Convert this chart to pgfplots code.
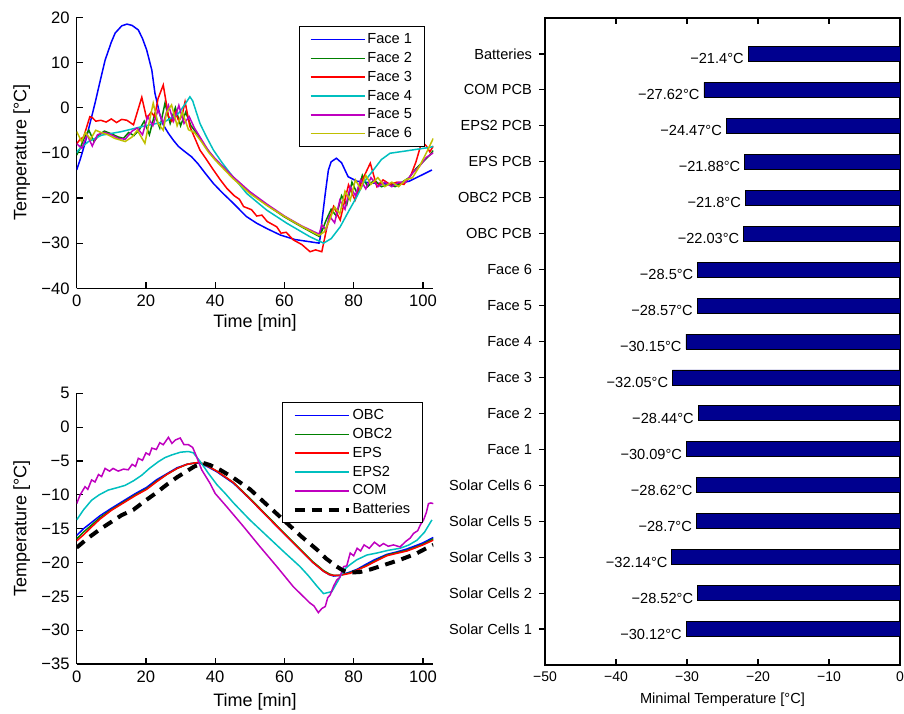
\documentclass[border=0pt]{standalone}
\usepackage{fontspec}
\setmainfont{Liberation Sans}
\usepackage{pgfplots}
\pgfplotsset{compat=1.18}
\definecolor{mblue}{rgb}{0,0,1}
\definecolor{mgreen}{rgb}{0,0.5,0}
\definecolor{mred}{rgb}{1,0,0}
\definecolor{mcyan}{rgb}{0,0.75,0.75}
\definecolor{mmag}{rgb}{0.75,0,0.75}
\definecolor{myel}{rgb}{0.75,0.75,0}
\definecolor{navybar}{rgb}{0,0,0.56}
\pgfplotsset{
  lineaxis/.style={
    scale only axis, width=178.3pt,
    axis lines*=left,
    axis line style={line width=0.6pt},
    every tick/.style={black, line width=0.6pt},
    major tick length=3pt,
    tick align=inside,
    xmin=0, xmax=103,
    xtick={0,20,40,60,80,100},
    xticklabels={0,20,40,60,80,100},
    tick label style={font=\fontsize{8.3}{10}\selectfont},
    label style={font=\fontsize{9}{11}\selectfont},
    xlabel={Time [min]},
    ylabel={Temperature [°C]},
    ylabel style={at={(axis description cs:-0.154,0.5)}, anchor=center, rotate=0},
    legend cell align=left,
    legend image code/.code={\draw[##1] (0pt,0pt) -- (27pt,0pt);},
    legend style={font=\fontsize{7.3}{9}\selectfont, draw=black,
      nodes={inner sep=1pt, text height=5.5pt, text depth=1.5pt},
      row sep=0.4pt, inner xsep=5pt, inner ysep=2pt},
    every axis plot/.append style={line width=0.75pt},
  }
}
\begin{document}
\begin{tikzpicture}
\path[use as bounding box] (0pt,0pt) rectangle (452pt,356.5pt);
% ---------------- top-left --------------
\begin{axis}[lineaxis,
  at={(38.35pt,212.35pt)}, anchor=south west, height=135.5pt,
  ymin=-40, ymax=20,
  ytick={-40,-30,-20,-10,0,10,20},
  yticklabels={−40,−30,−20,−10,0,10,20},
  xlabel style={at={(axis description cs:0.5,-0.129)}, anchor=center},
  legend style={at={(axis description cs:0.975,0.967)}, anchor=north east},
]
\addplot[mblue] coordinates {
(0,-13.8) (1,-11.5) (2.4,-7.9) (4,-3) (5.3,1) (6.5,5) (8.2,10.5) (10,14.5) (11.1,16.5) (13,18.1) (14.5,18.5) (16,18.2) (17.8,17.2) (19,15.3) (20.2,12.8) (21.7,8.3) (22.6,3.2) (24,-1.5) (25,-3.8) (26.5,-5.7) (28,-7.3) (29.4,-8.6) (31,-9.6) (33.2,-10.9) (35,-12.4) (37.1,-14.5) (39.5,-16.8) (42,-18.8) (45,-21) (49,-24.1) (52,-25.6) (55,-26.8) (58.8,-28.2) (63,-29.2) (67.4,-29.7) (70,-30) (70.3,-28.9) (71,-24) (71.8,-19) (72.7,-13.8) (73.5,-12) (75,-11.2) (76.5,-12.2) (78.4,-15.3) (81,-16.3) (85.7,-16.7) (92,-17) (96,-16.3) (100,-14.8) (102.6,-13.8)};
\addlegendentry{Face 1}
\addplot[mgreen] coordinates {
(0,-10.5) (1,-9) (2,-7) (3.5,-5) (5,-7.5) (6.5,-6) (8,-5.2) (10,-5.8) (12,-6.5) (13.5,-6.8) (15,-5.5) (16.5,-6.2) (18,-5) (19.5,-3) (21,-6) (22.5,-1.5) (24,-4.5) (25.5,1) (27,-3.5) (28.5,0) (30,-4) (31.5,-1) (33,-4) (35,-6) (37,-8.5) (40,-11.5) (45,-15.3) (50,-18.8) (55,-21.6) (60,-24.2) (65,-26.4) (70,-28.5) (71,-27) (72,-25) (73.5,-22.5) (75,-24) (76.5,-19.5) (78,-21.5) (79.5,-16.5) (81,-19) (82.5,-15) (84,-17.5) (86,-16) (88,-17.5) (90,-17) (92,-17.5) (94,-16.5) (96,-15.5) (98,-13.5) (100,-12) (102,-10.5) (103,-9.5)};
\addlegendentry{Face 2}
\addplot[mred] coordinates {
(0,-8) (1,-7) (2,-6.5) (3,-4) (3.8,-2) (4.5,-2.2) (5.5,-3) (7,-2.8) (8.5,-3.2) (10,-2.5) (11.5,-3.3) (13,-2.6) (14.5,-2.8) (16.4,-3.8) (17.5,-1) (18.8,2.3) (20.2,-2.4) (21.5,-1) (22.5,-2) (23.5,2) (25,5) (26.5,-1.9) (27.5,-3) (28.5,-1) (29.5,-3) (30.5,-1.5) (31.3,1.3) (32.7,-4.2) (35.6,-9.4) (37.5,-11.5) (39.5,-13.8) (41.5,-16) (43.4,-17.9) (45.5,-19.5) (47,-20.3) (48.2,-21.9) (50.5,-22.6) (52,-24) (53.5,-23.8) (55,-25.2) (57.8,-26.4) (59,-27.8) (60.5,-27.6) (62.6,-29.3) (65,-30.3) (67.4,-31.9) (69,-31.5) (70.8,-31.9) (72.3,-26.4) (74.2,-21.9) (76.1,-24.9) (78.5,-17.1) (80.4,-20.5) (82.5,-16) (84.8,-12.3) (86.7,-17.5) (88.5,-16) (90.5,-17) (92.5,-16.5) (94.5,-17) (96.5,-15) (98,-12) (99.7,-7.5) (101,-8.5) (102,-9.8) (103,-8.5)};
\addlegendentry{Face 3}
\addplot[mcyan] coordinates {
(0,-10) (0.5,-9.4) (3.4,-7.5) (7.2,-6.1) (13,-5.3) (18.8,-4.2) (25.5,-3.1) (29.4,-1.3) (31.5,1) (32.7,2.4) (33.5,1.5) (35.6,-3.5) (37.5,-6.5) (39.5,-9.4) (42,-12.2) (44.3,-14.5) (49.1,-19) (54.9,-22.7) (60.7,-25.6) (67.4,-28.6) (71.3,-30) (73.5,-29) (76.1,-26.4) (78.5,-23) (80.9,-19.7) (83,-16.5) (85.7,-13.8) (88,-11.5) (90.5,-10.1) (95,-9.6) (100.2,-9) (102,-8.8) (103,-8.6)};
\addlegendentry{Face 4}
\addplot[mmag] coordinates {
(0,-8) (1.5,-9) (3,-6) (4.5,-8.5) (6,-6) (8,-5.5) (10,-6) (12,-6.8) (14,-7) (16,-5.2) (17.5,-4.5) (19,-6) (20.5,-2) (22,-4) (23.5,-0.5) (25,-3.5) (26.5,0.5) (28,-3) (29.5,0.5) (31,-3.5) (32.5,-2) (34,-4.5) (36,-7) (38,-9.5) (40,-11.3) (45,-15.2) (50,-18.6) (55,-21.4) (60,-24) (65,-26.2) (70,-28) (70.8,-26) (72,-27) (73,-24) (74.5,-25.5) (76,-20.5) (77.5,-22.5) (79,-17.5) (80.5,-19.5) (82,-16) (83.5,-18) (85,-15.5) (87,-17.5) (89,-16.5) (91,-17.5) (93,-16.5) (95,-16.5) (97,-14.5) (99,-13) (101,-11) (103,-10)};
\addlegendentry{Face 5}
\addplot[myel] coordinates {
(0,-5.3) (1.4,-7.5) (2.5,-5.5) (4,-7) (5.5,-5) (7,-5.5) (9,-6) (11,-6.8) (14,-7.5) (16,-6.5) (17.5,-5) (19.7,-7.9) (21,-3) (22.1,1) (23.5,-3.5) (25,-5) (26,-1) (27.4,0.6) (29,-4) (30.5,-1) (32.3,-4.9) (34,-5.5) (36,-7.5) (38,-9.8) (40,-11.6) (45,-15.6) (50,-19) (55,-21.7) (60,-24.1) (65,-26.3) (70,-28.3) (71.5,-27.5) (73,-25) (74.5,-22) (76,-23.5) (77.5,-18.5) (79,-20.5) (80.5,-16) (82,-18) (83.5,-15) (85,-17) (87,-15.5) (89,-17.5) (91,-16.5) (93,-17.5) (95,-16) (97,-15.5) (99,-13) (101,-10) (103,-6.8)};
\addlegendentry{Face 6}
\end{axis}
% ---------------- bottom-left --------------
\begin{axis}[lineaxis,
  at={(38.35pt,24.5pt)}, anchor=south west, height=135.35pt,
  ymin=-35, ymax=5,
  ytick={-35,-30,-25,-20,-15,-10,-5,0,5},
  yticklabels={−35,−30,−25,−20,−15,−10,−5,0,5},
  xlabel style={at={(axis description cs:0.5,-0.139)}, anchor=center},
  legend style={at={(axis description cs:0.97,0.967)}, anchor=north east},
]
\addplot[mblue] coordinates {
(0,-16) (2,-15) (4,-14.2) (6.7,-13.1) (10,-12) (13.5,-10.9) (17,-9.8) (20.2,-8.9) (23,-7.8) (26,-6.9) (29,-6) (31.8,-5.5) (34,-5.3) (35.6,-5.3) (38,-5.9) (40.5,-6.6) (45.3,-8.3) (50,-10.6) (55,-13.2) (60,-15.8) (64.5,-18.1) (68,-19.9) (71.3,-21.3) (73,-21.8) (74.2,-22) (76,-21.9) (79,-21.4) (81,-21) (83.8,-20.2) (86,-19.6) (89.6,-18.8) (92,-18.5) (95.4,-18) (98,-17.5) (100,-17.1) (103,-16.3)};
\addlegendentry{OBC}
\addplot[mgreen] coordinates {
(0,-16.5) (2,-15.5) (4,-14.6) (6.7,-13.4) (10,-12.2) (13.5,-11.1) (17,-10) (20.2,-9.1) (23,-8) (26,-7) (29,-6.1) (31.8,-5.5) (34,-5.3) (35.6,-5.2) (38,-5.8) (40.5,-6.5) (45.3,-8.2) (50,-10.5) (55,-13.1) (60,-15.7) (64.5,-18) (68,-19.8) (71.3,-21.2) (73,-21.7) (74.2,-21.9) (76,-21.9) (79,-21.5) (81,-21.1) (83.8,-20.4) (86,-19.8) (89.6,-18.9) (92,-18.6) (95.4,-18.2) (98,-17.7) (100,-17.3) (103,-16.5)};
\addlegendentry{OBC2}
\addplot[mred] coordinates {
(0,-16.8) (2,-15.9) (4,-14.9) (6.7,-13.6) (10,-12.3) (13.5,-11.2) (17,-10.1) (20.2,-9.2) (23,-8.1) (26,-7) (29,-6.1) (31.8,-5.5) (34,-5.3) (35.6,-5.2) (38,-5.8) (40.5,-6.5) (45.3,-8.2) (50,-10.6) (55,-13.2) (60,-15.8) (64.5,-18.1) (68,-19.9) (71.3,-21.3) (73,-21.8) (74.2,-21.9) (76,-21.9) (79,-21.6) (81,-21.1) (83.8,-20.5) (86,-19.9) (89.6,-19) (92,-18.7) (95.4,-18.3) (98,-17.8) (100,-17.4) (103,-16.7)};
\addlegendentry{EPS}
\addplot[mcyan] coordinates {
(0,-13.7) (2,-12.2) (4.3,-10.8) (6.5,-10) (9.1,-9.3) (12,-8.9) (14,-8.6) (16.5,-7.9) (18.8,-7.1) (21,-6.1) (23.6,-5.1) (25.5,-4.5) (27.5,-4.1) (30,-3.7) (32.3,-3.6) (33.7,-3.8) (36,-5.3) (38,-6.8) (40.5,-8.5) (42.9,-9.8) (45.3,-11.2) (50,-13.7) (55,-16.1) (60,-18.5) (64.5,-20.6) (67,-22) (69.4,-23.5) (71.3,-24.6) (73.7,-24.3) (75.6,-22.6) (77.1,-21.1) (79,-20.3) (80.9,-19.6) (83.8,-18.9) (86.7,-18.6) (90,-18.2) (93.4,-17.9) (96,-17.4) (98.3,-16.7) (100.5,-15.5) (102.6,-13.7)};
\addlegendentry{EPS2}
\addplot[mmag] coordinates {
(0,-11.3) (1,-10) (2.4,-8.8) (3.2,-9.2) (4.3,-7.8) (5.3,-8.1) (6.3,-7) (7.2,-7.3) (8.2,-6.1) (9.5,-6.5) (10.5,-6.1) (12,-6.5) (13.5,-6.2) (14.9,-6.3) (16,-5.5) (17,-5.8) (17.8,-4.6) (19,-4.9) (20,-3.8) (21,-4.1) (21.7,-3.1) (23,-3.3) (24,-2.3) (25,-2.6) (26.5,-1.5) (27.5,-2.4) (28.5,-1.9) (29.9,-1.6) (31,-2.6) (32.3,-2.6) (33.5,-3) (34.5,-4.2) (36.1,-6.3) (38.5,-8.3) (40,-9.8) (43.4,-11.8) (48.2,-14.7) (53,-17.7) (57.8,-20.6) (62.6,-23.6) (67.4,-26) (68.5,-26.4) (69.8,-27.4) (70.8,-26.8) (71.8,-26.5) (72.5,-25.2) (73.2,-24.8) (74.2,-23.5) (75.1,-22.6) (76,-22.2) (77.1,-20.6) (78,-20.5) (79,-18.6) (80,-19) (81,-17.9) (82,-18.3) (83,-17.4) (84.5,-17.9) (86,-17) (87.5,-17.6) (88.6,-17.2) (90,-17.6) (91.5,-17.4) (93.4,-17.7) (95,-16.9) (96.3,-16.4) (97.3,-15.7) (98.5,-15.3) (99.3,-14.4) (100.2,-13.7) (101,-12.6) (101.6,-11.3) (102.3,-11.2) (103,-11.3)};
\addlegendentry{COM}
\addplot[black, line width=2pt, dash pattern=on 5pt off 3.5pt] coordinates {
(0,-17.8) (3,-16.5) (6.7,-15.1) (10,-14) (13,-13) (16.4,-12.2) (20,-10.8) (23,-9.7) (26,-8.5) (29,-7.4) (31.8,-6.5) (34,-5.8) (36.6,-5.3) (38.5,-5.6) (41.4,-6.3) (45,-7.4) (50.1,-9.2) (55,-11.5) (59.7,-13.7) (65,-16.2) (69.4,-18.1) (72,-19.4) (75.1,-20.6) (77,-21.2) (79,-21.5) (81.9,-21.4) (85,-21) (88.6,-20.4) (93.4,-19.6) (98,-18.7) (102.1,-17.6) (103,-17.4)};
\addlegendentry{Batteries}
\end{axis}
% ---------------- right bar chart --------------
\begin{axis}[
  scale only axis, at={(272.5pt,24pt)}, anchor=south west,
  width=177.5pt, height=323.5pt,
  xmin=-50, xmax=0, ymin=0, ymax=18,
  axis line style={line width=0.6pt},
  every tick/.style={black, line width=0.6pt},
  major tick length=3pt, tick align=inside,
  xtick={-50,-40,-30,-20,-10,0},
  xticklabels={−50,−40,−30,−20,−10,0},
  xtick pos=both, xticklabel pos=bottom,
  ytick={1,...,17}, ytick pos=left,
  yticklabels={Solar Cells 1,Solar Cells 2,Solar Cells 3,Solar Cells 5,Solar Cells 6,Face 1,Face 2,Face 3,Face 4,Face 5,Face 6,OBC PCB,OBC2 PCB,EPS PCB,EPS2 PCB,COM PCB,Batteries},
  xticklabel style={font=\fontsize{7}{8}\selectfont},
  yticklabel style={font=\fontsize{7.3}{9}\selectfont},
  xlabel={Minimal Temperature [°C]},
  xlabel style={font=\fontsize{7.3}{9}\selectfont, at={(axis description cs:0.5,-0.054)}, anchor=center},
  xbar, bar width=7.5pt,
  point meta=explicit symbolic,
  nodes near coords,
  nodes near coords align={anchor=east},
  every node near coord/.append style={font=\fontsize{7.3}{9}\selectfont, anchor=east, yshift=-2.5pt, inner sep=2pt},
]
\addplot[draw=black, line width=0.4pt, fill=navybar] coordinates {
(-30.12,1) [−30.12°C]
(-28.52,2) [−28.52°C]
(-32.14,3) [−32.14°C]
(-28.7,4) [−28.7°C]
(-28.62,5) [−28.62°C]
(-30.09,6) [−30.09°C]
(-28.44,7) [−28.44°C]
(-32.05,8) [−32.05°C]
(-30.15,9) [−30.15°C]
(-28.57,10) [−28.57°C]
(-28.5,11) [−28.5°C]
(-22.03,12) [−22.03°C]
(-21.8,13) [−21.8°C]
(-21.88,14) [−21.88°C]
(-24.47,15) [−24.47°C]
(-27.62,16) [−27.62°C]
(-21.4,17) [−21.4°C]
};
\end{axis}
\end{tikzpicture}
\end{document}
